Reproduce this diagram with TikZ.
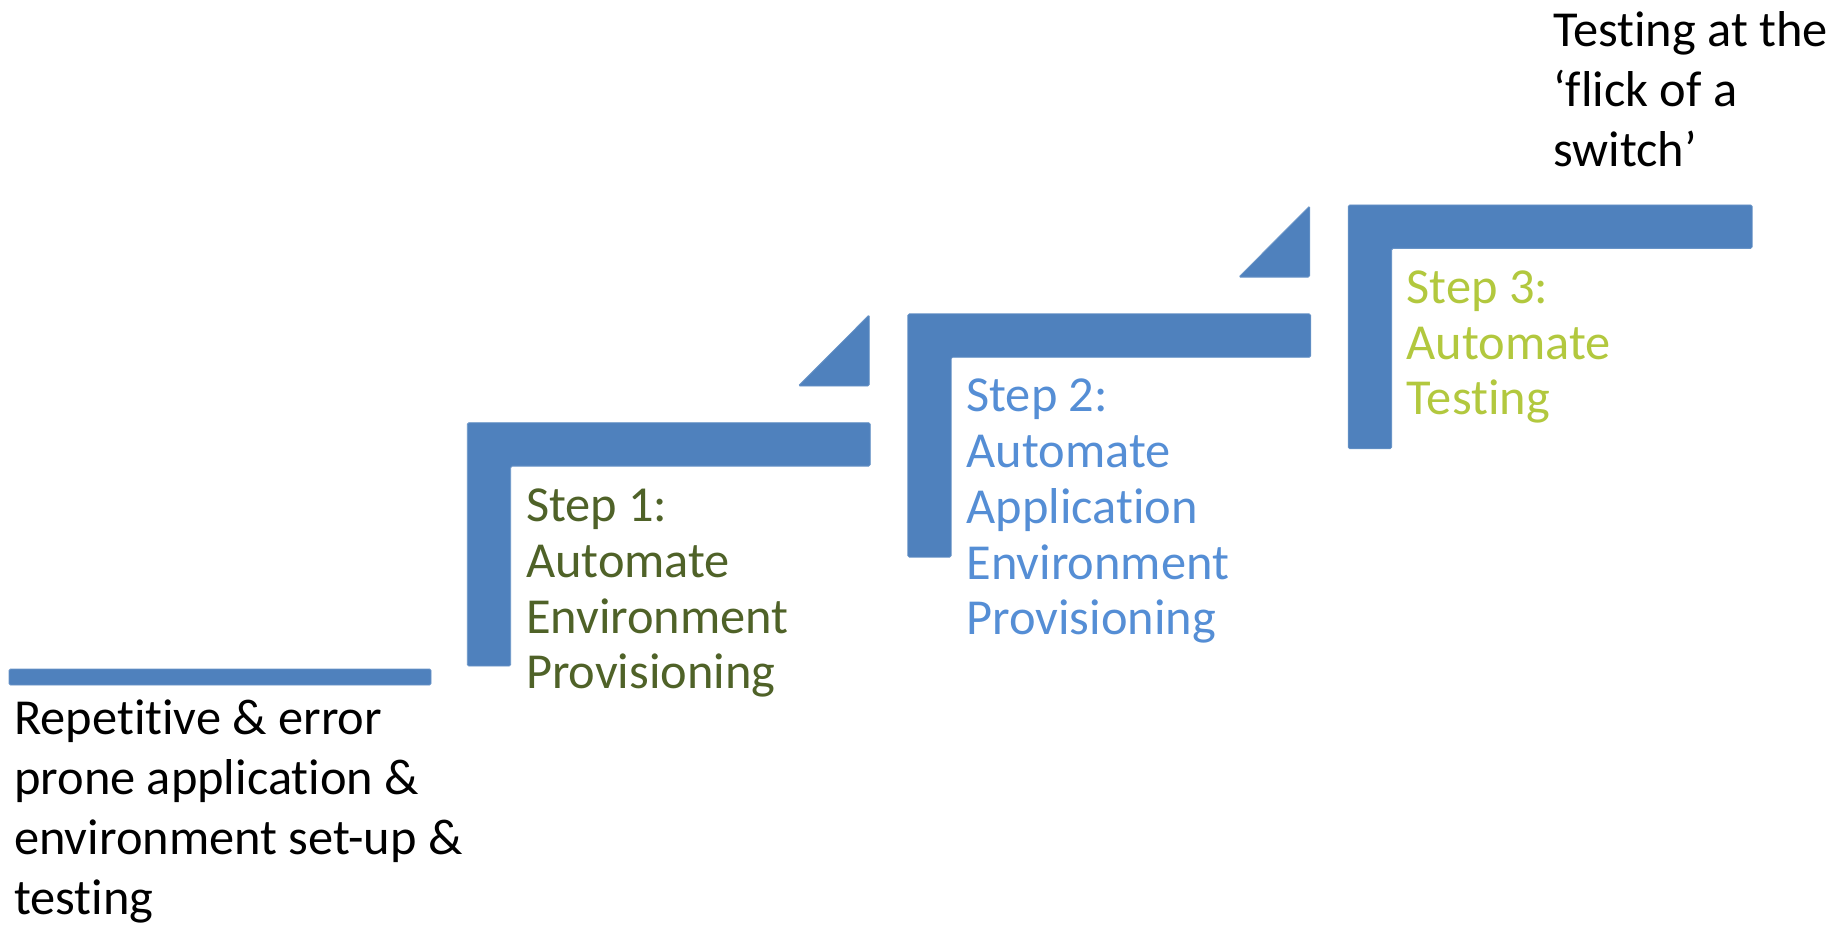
\documentclass[tikz,border=0pt]{standalone}
\usepackage{fontspec}
\setmainfont{Carlito}[Ligatures={NoCommon}]
\definecolor{stairblue}{HTML}{4F81BD}
\definecolor{stepone}{HTML}{4F6228}
\definecolor{steptwo}{HTML}{558ED5}
\definecolor{stepthree}{RGB}{178,200,62}
\tikzset{
  stair/.style={fill=stairblue, draw=stairblue!85!white, line width=0.8pt, rounded corners=1.5pt},
  plaintext/.style={anchor=base west, inner sep=0pt, font=\fontsize{50.4}{60}\selectfont},
  steptext/.style={anchor=base west, inner sep=0pt, font=\fontsize{50.4}{55.8}\selectfont},
}
\begin{document}
\begin{tikzpicture}[x=1pt,y=-1pt]
\useasboundingbox (0,0) rectangle (1845,925);
% bottom bar
\draw[stair] (9,669) rectangle (431,685);
\node[plaintext] (start) at (14,734.3) {\vtop{\hbox{Repetitive \& error}\hbox{prone application \&}\hbox{environment set-up \&}\hbox{testing}}};
% step 1
\begin{scope}[shift={(467.3,422.7)}]
  \draw[stair] (0,0) -- (403,0) -- (403,43.4) -- (43.4,43.4) -- (43.4,243.3) -- (0,243.3) -- cycle;
  \draw[stair] (331,-36.7) -- (402,-36.7) -- (402,-108) -- cycle;
  \node[steptext, text=stepone] (s1) at (58.5,98.8) {\vtop{\hbox{Step 1:}\hbox{Automate}\hbox{Environment}\hbox{Provisioning}}};
\end{scope}
% step 2
\begin{scope}[shift={(907.75,313.85)}]
  \draw[stair] (0,0) -- (403,0) -- (403,43.4) -- (43.4,43.4) -- (43.4,243.3) -- (0,243.3) -- cycle;
  \draw[stair] (331,-36.7) -- (402,-36.7) -- (402,-108) -- cycle;
  \node[steptext, text=steptwo] (s2) at (58.5,97.9) {\vtop{\hbox{Step 2:}\hbox{Automate}\hbox{Application}\hbox{Environment}\hbox{Provisioning}}};
\end{scope}
% step 3
\begin{scope}[shift={(1348.2,205)}]
  \draw[stair] (0,0) -- (404,0) -- (404,43.4) -- (43.4,43.4) -- (43.4,243.8) -- (0,243.8) -- cycle;
  \node[steptext, text=stepthree] (s3) at (58.4,98.3) {\vtop{\hbox{Step 3:}\hbox{Automate}\hbox{Testing}}};
\end{scope}
\node[plaintext] (goal) at (1553,46.7) {\vtop{\hbox{Testing at the}\hbox{‘flick of a}\hbox{switch’}}};
\end{tikzpicture}
\end{document}
